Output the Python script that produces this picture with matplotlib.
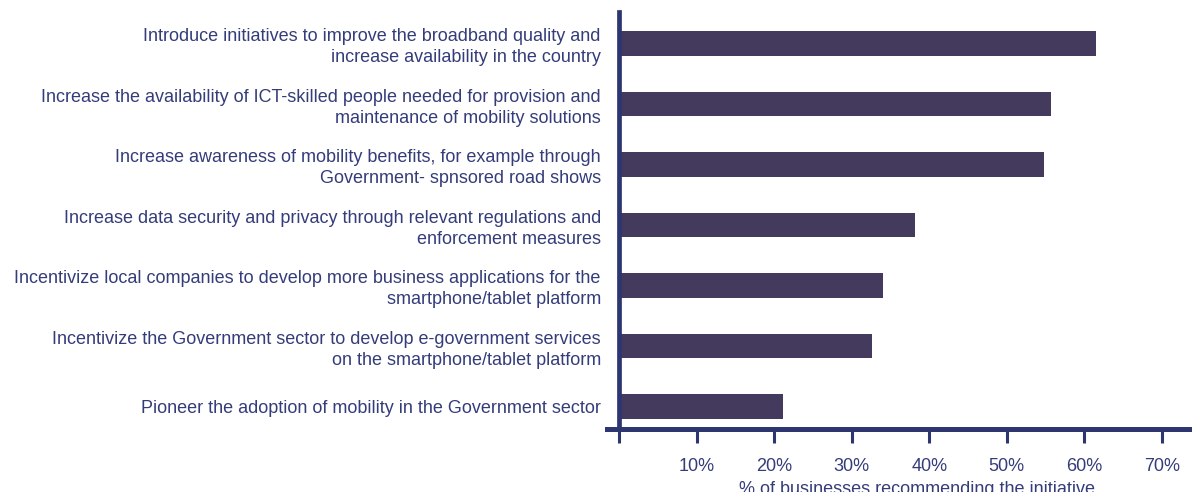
import matplotlib.pyplot as plt

plt.rcParams['font.family'] = ['Liberation Sans', 'DejaVu Sans']

initiatives = [
    "Introduce initiatives to improve the broadband quality and\nincrease availability in the country",
    "Increase the availability of ICT-skilled people needed for provision and\nmaintenance of mobility solutions",
    "Increase awareness of mobility benefits, for example through\nGovernment- spnsored road shows",
    "Increase data security and privacy through relevant regulations and\nenforcement measures",
    "Incentivize local companies to develop more business applications for the\nsmartphone/tablet platform",
    "Incentivize the Government sector to develop e-government services\non the smartphone/tablet platform",
    "Pioneer the adoption of mobility in the Government sector",
]
share = [61.5, 55.7, 54.8, 38.1, 34.0, 32.6, 21.1]
ticks = [0, 10, 20, 30, 40, 50, 60, 70]
tick_labels = ["", "10%", "20%", "30%", "40%", "50%", "60%", "70%"]

bar_color = "#433a5e"
axis_color = "#2d3670"
text_color = "#343c7a"

fig = plt.figure(figsize=(11.92, 4.92), dpi=100)
ax = fig.add_axes([0.5096, 0.128, 0.5193, 0.8476])

# spine position first: moving it resets the tick labels
for s in ['top', 'right']:
    ax.spines[s].set_visible(False)
ax.spines['left'].set_position(('data', 0))
ax.spines['left'].set_linewidth(3.4)
ax.spines['left'].set_color(axis_color)
ax.spines['bottom'].set_linewidth(3.6)
ax.spines['bottom'].set_color(axis_color)

pos = list(range(len(initiatives)))
ax.barh(pos, share, height=0.405, color=bar_color)

ax.set_ylim(6.375, -0.517)
ax.set_xlim(-1.48, 78.3)

ax.set_yticks(pos)
ax.set_yticklabels(initiatives, fontsize=13, color=text_color, linespacing=1.3)
ax.tick_params(axis='y', length=0, pad=13)

ax.set_xticks(ticks)
ax.set_xticklabels(tick_labels, fontsize=13, color=text_color)
ax.tick_params(axis='x', length=10, width=2.2, color=axis_color, pad=11, direction='out')

ax.set_xlabel("% of businesses recommending the initiative", fontsize=13,
              color=text_color, labelpad=4)

fig.savefig("out.png", dpi=100)
